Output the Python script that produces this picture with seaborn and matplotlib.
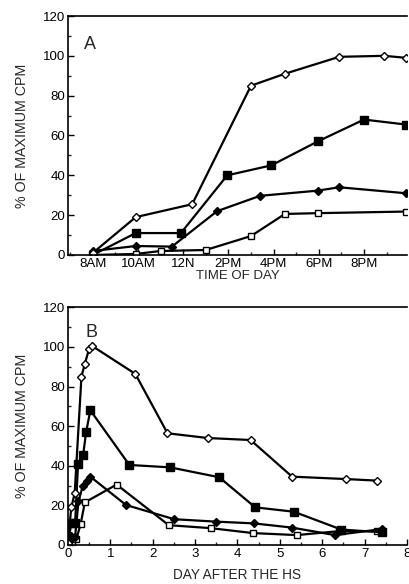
#!/usr/bin/env python3
# two-panel time course, % of maximum CPM
import pandas as pd
import matplotlib
matplotlib.use('Agg')
import matplotlib.pyplot as plt
import seaborn as sns
from matplotlib.ticker import MultipleLocator

sns.set_style('white')
plt.rcParams['font.family'] = ['Liberation Sans', 'DejaVu Sans']

# panel A: hour of day
a_open_diamond_x = [8, 9.9, 12.4, 15.0, 16.5, 18.9, 20.9, 21.85]
a_open_diamond_y = [1, 19, 25.5, 85, 91, 99.5, 100, 99]
a_fill_square_x = [8, 9.9, 11.9, 13.95, 15.9, 17.95, 20.0, 21.85]
a_fill_square_y = [0, 11, 11, 40, 45, 57, 68, 65.5]
a_fill_diamond_x = [8, 9.9, 11.5, 13.5, 15.4, 17.95, 18.9, 21.85]
a_fill_diamond_y = [2, 4.5, 4.2, 22, 29.7, 32.3, 34, 31]
a_open_square_x = [8, 9.9, 11.0, 13.0, 15.0, 16.5, 17.95, 21.85]
a_open_square_y = [0, 0.5, 2, 2.5, 9.5, 20.6, 21, 21.8]
a_ticks = [8, 10, 12, 14, 16, 18, 20]
a_ticklabels = ['8AM', '10AM', '12N', '2PM', '4PM', '6PM', '8PM']

# panel B: day after the HS
b_open_diamond_x = [0, 0.08, 0.16, 0.32, 0.4, 0.5, 0.57, 1.59, 2.35, 3.3, 4.31, 5.29, 6.55, 7.29]
b_open_diamond_y = [1, 19, 26, 85, 91.5, 99, 100.5, 86.4, 56.4, 54, 53, 34.5, 33.3, 32.5]
b_fill_square_x = [0, 0.08, 0.17, 0.24, 0.36, 0.43, 0.53, 1.45, 2.41, 3.57, 4.42, 5.33, 6.45, 7.41]
b_fill_square_y = [0, 11, 11, 41, 45.5, 57, 68, 40.4, 39.2, 34.2, 19, 16.8, 7.8, 6.4]
b_fill_diamond_x = [0, 0.08, 0.17, 0.25, 0.35, 0.45, 0.53, 1.37, 2.51, 3.49, 4.39, 5.28, 6.3, 7.4]
b_fill_diamond_y = [2, 4.5, 4.2, 22, 29.7, 32.3, 34.5, 20.2, 13, 11.8, 10.9, 8.8, 5, 8]
b_open_square_x = [0, 0.1, 0.2, 0.3, 0.4, 1.15, 2.38, 3.37, 4.37, 5.4, 6.4, 7.3]
b_open_square_y = [0, 1, 3, 10.5, 21.5, 30.5, 10, 8.5, 6, 5, 7, 7]

styles = {
    'open_diamond': dict(marker='D', markersize=4.5, markerfacecolor='white'),
    'fill_square': dict(marker='s', markersize=6, markerfacecolor='black'),
    'fill_diamond': dict(marker='D', markersize=4.5, markerfacecolor='black'),
    'open_square': dict(marker='s', markersize=5, markerfacecolor='white'),
}

panel_a = {
    'open_diamond': (a_open_diamond_x, a_open_diamond_y),
    'fill_square': (a_fill_square_x, a_fill_square_y),
    'fill_diamond': (a_fill_diamond_x, a_fill_diamond_y),
    'open_square': (a_open_square_x, a_open_square_y),
}
panel_b = {
    'open_diamond': (b_open_diamond_x, b_open_diamond_y),
    'fill_square': (b_fill_square_x, b_fill_square_y),
    'fill_diamond': (b_fill_diamond_x, b_fill_diamond_y),
    'open_square': (b_open_square_x, b_open_square_y),
}

fig = plt.figure(figsize=(4.09, 5.84), dpi=100)
ax1 = fig.add_axes([0.166, 0.5634, 0.829, 0.4092])
ax2 = fig.add_axes([0.166, 0.0668, 0.829, 0.407])


def draw(ax, series):
    # open squares drawn first so filled ones sit on top
    for name in ['open_square', 'fill_diamond', 'fill_square', 'open_diamond']:
        xs, ys = series[name]
        df = pd.DataFrame({'x': xs, 'y': ys})
        sns.lineplot(data=df, x='x', y='y', ax=ax, sort=False, estimator=None,
                     color='black', linewidth=1.6, markeredgecolor='black',
                     markeredgewidth=1.0, **styles[name])


draw(ax1, panel_a)
draw(ax2, panel_b)

for ax in (ax1, ax2):
    ax.set_ylim(0, 120)
    ax.yaxis.set_major_locator(MultipleLocator(20))
    ax.yaxis.set_minor_locator(MultipleLocator(10))
    ax.tick_params(axis='both', which='major', direction='in', length=4,
                   width=1, labelsize=9.5, pad=2, colors='black')
    ax.tick_params(axis='both', which='minor', direction='in', length=2.5, width=1)
    ax.tick_params(axis='y', left=True, which='both')
    ax.tick_params(axis='x', bottom=True, which='both')
    ax.spines['right'].set_visible(False)
    for s in ['left', 'bottom', 'top']:
        ax.spines[s].set_linewidth(1.2)
        ax.spines[s].set_color('black')
    ax.set_ylabel('% OF MAXIMUM CPM', fontsize=10.3, labelpad=10)

ax1.set_xlim(6.9, 21.9)
ax1.set_xticks(a_ticks)
ax1.set_xticklabels(a_ticklabels)
ax1.xaxis.set_minor_locator(MultipleLocator(1))
ax1.set_xlabel('TIME OF DAY', fontsize=9.5, labelpad=0)
ax1.text(0.065, 0.88, 'A', transform=ax1.transAxes, fontsize=13, ha='center', va='center')

ax2.set_xlim(0, 8)
ax2.xaxis.set_major_locator(MultipleLocator(1))
ax2.xaxis.set_minor_locator(MultipleLocator(0.5))
ax2.set_xlabel('DAY AFTER THE HS', fontsize=9.8, labelpad=6)
ax2.text(0.07, 0.895, 'B', transform=ax2.transAxes, fontsize=13, ha='center', va='center')

fig.savefig('out.png', dpi=100)
